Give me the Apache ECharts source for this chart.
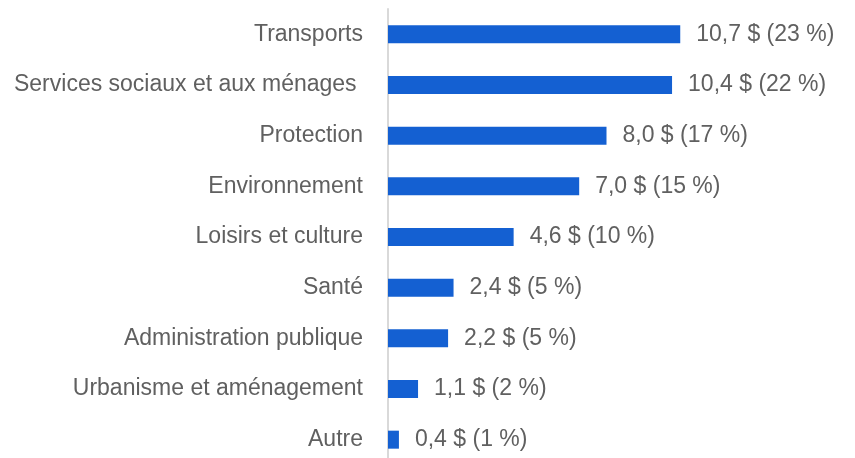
<!DOCTYPE html>
<html>
<head>
<meta charset="utf-8">
<script src="https://cdn.jsdelivr.net/npm/echarts@6/dist/echarts.min.js"></script>
<style>
  html, body { margin: 0; padding: 0; background: #ffffff; }
  #main { width: 855px; height: 458px; }
</style>
</head>
<body>
<div id="main"></div>
<script>
// categories listed top to bottom
var categories = ['Transports', 'Services sociaux et aux ménages ', 'Protection', 'Environnement',
  'Loisirs et culture', 'Santé', 'Administration publique', 'Urbanisme et aménagement', 'Autre'];
var values = [10.7, 10.4, 8.0, 7.0, 4.6, 2.4, 2.2, 1.1, 0.4];
var shares = [23, 22, 17, 15, 10, 5, 5, 2, 1];

var chartDom = document.getElementById('main');
var myChart = echarts.init(chartDom);

var option = {
  animation: false,
  grid: {
    left: 388,
    width: 437,
    top: 9,
    height: 456,
    outerBoundsMode: 'none'
  },
  xAxis: {
    type: 'value',
    min: 0,
    max: 16,
    show: false
  },
  yAxis: {
    type: 'category',
    inverse: true,
    data: categories,
    axisLine: { show: true, lineStyle: { color: '#d9d9d9', width: 2 } },
    axisTick: { show: false },
    axisLabel: {
      color: '#606060',
      fontFamily: 'Liberation Sans, Arial, sans-serif',
      fontSize: 23,
      margin: 25
    }
  },
  series: [
    {
      type: 'bar',
      data: values,
      barWidth: 18,
      itemStyle: { color: '#1460d2' },
      label: {
        show: true,
        position: 'right',
        distance: 16,
        color: '#606060',
        fontFamily: 'Liberation Sans, Arial, sans-serif',
        fontSize: 23,
        formatter: function (p) {
          return values[p.dataIndex].toFixed(1).replace('.', ',') + ' $ (' + shares[p.dataIndex] + ' %)';
        }
      }
    }
  ]
};
myChart.setOption(option);
</script>
</body>
</html>
